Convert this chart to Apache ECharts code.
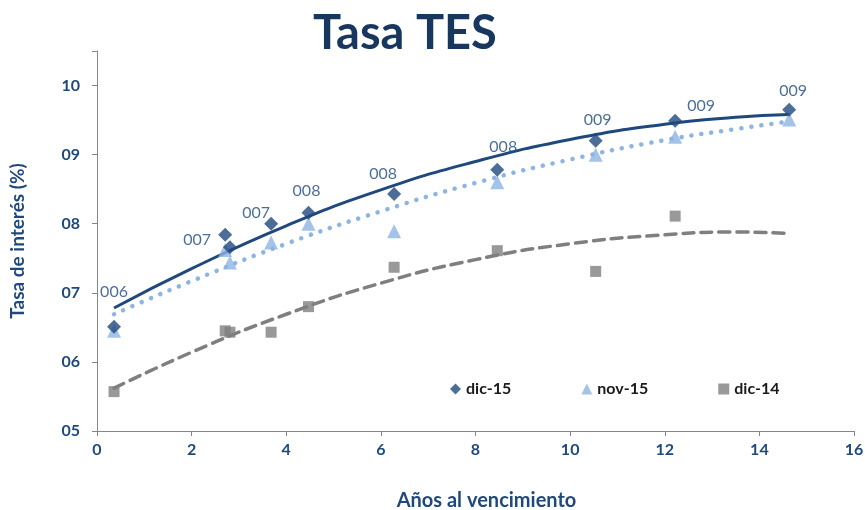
<!DOCTYPE html>
<html>
<head>
<meta charset="utf-8">
<script src="https://cdn.jsdelivr.net/npm/echarts@6/dist/echarts.min.js"></script>
<style>
  html, body { margin: 0; padding: 0; background: #fff; }
  #chart { width: 865px; height: 510px; }
</style>
</head>
<body>
<div id="chart"></div>
<script>
// puntos observados (años, tasa)
const dic15X = [0.36, 2.71, 2.81, 3.68, 4.47, 6.28, 8.46, 10.54, 12.22, 14.63]
const dic15Y = [6.51, 7.84, 7.66, 8.00, 8.16, 8.43, 8.78, 9.20, 9.49, 9.65]
const dic15Labels = ['006', '007', '', '007', '008', '008', '008', '009', '009', '009']

const nov15X = [0.36, 2.71, 2.81, 3.68, 4.47, 6.28, 8.46, 10.54, 12.22, 14.63]
const nov15Y = [6.45, 7.62, 7.44, 7.73, 8.00, 7.89, 8.60, 9.00, 9.26, 9.51]

const dic14X = [0.36, 2.71, 2.81, 3.68, 4.47, 6.28, 8.46, 10.54, 12.22]
const dic14Y = [5.57, 6.45, 6.43, 6.43, 6.80, 7.37, 7.61, 7.31, 8.11]

// líneas de tendencia
const trendX = [0.36, 2, 4, 6, 8, 10, 12, 13.5, 14.63]
const trendDic15 = [6.78, 7.35, 7.97, 8.49, 8.90, 9.22, 9.44, 9.54, 9.58]
const trendNov15 = [6.69, 7.17, 7.71, 8.18, 8.59, 8.93, 9.21, 9.37, 9.48]
const trendDic14 = [5.62, 6.14, 6.69, 7.14, 7.48, 7.71, 7.84, 7.88, 7.86]

const xTicks = [0, 2, 4, 6, 8, 10, 12, 14, 16]
const yTicks = ['05', '06', '07', '08', '09', '10']

const font = 'Lato, "Open Sans", sans-serif'
const navy = '#1F497D'

const zip = (xs, ys) => xs.map((x, i) => [x, ys[i]])

// desplazamiento de cada etiqueta respecto a su punto
const labelOffset = [[0, -35], [-28, 5], [0, 0], [-15, -11], [-2, -22], [-11, -20], [6, -23], [2, -21], [26, -15], [4, -19]]

const chart = echarts.init(document.getElementById('chart'))

chart.setOption({
  animation: false,
  title: {
    text: 'Tasa TES',
    left: 400,
    top: 5,
    textAlign: 'center',
    textStyle: {
      fontFamily: font,
      fontWeight: 'bold',
      fontSize: 47,
      color: '#17375E'
    }
  },
  legend: {
    left: 445,
    top: 376,
    itemGap: 70,
    itemWidth: 11,
    itemHeight: 11,
    textStyle: {
      fontFamily: font,
      fontWeight: 'bold',
      fontSize: 16,
      color: '#1a1a1a'
    },
    data: ['dic-15', 'nov-15', 'dic-14']
  },
  grid: {
    left: 97,
    right: 11,
    top: 51,
    bottom: 79,
    outerBoundsMode: 'none'
  },
  xAxis: {
    type: 'value',
    min: 0,
    max: 16,
    interval: 2,
    name: 'Años al vencimiento',
    nameLocation: 'middle',
    nameGap: 60,
    nameTextStyle: {
      fontFamily: font,
      fontWeight: 'bold',
      fontSize: 20,
      color: navy,
      padding: [0, 0, 0, 22]
    },
    splitLine: { show: false },
    axisLine: { lineStyle: { color: '#868686' } },
    axisTick: { show: true, length: 5, lineStyle: { color: '#868686' } },
    axisLabel: {
      margin: 11,
      fontFamily: font,
      fontWeight: 'bold',
      fontSize: 16,
      color: navy,
      formatter: (v) => xTicks.includes(v) ? String(v) : ''
    }
  },
  yAxis: {
    type: 'value',
    min: 5,
    max: 10.5,
    interval: 1,
    name: 'Tasa de interés (%)',
    nameLocation: 'middle',
    nameRotate: 90,
    nameGap: 70,
    nameTextStyle: {
      fontFamily: font,
      fontWeight: 'bold',
      fontSize: 19,
      color: navy
    },
    splitLine: { show: false },
    axisLine: { show: true, lineStyle: { color: '#868686' } },
    axisTick: { show: true, length: 5, lineStyle: { color: '#868686' } },
    axisLabel: {
      margin: 17,
      fontFamily: font,
      fontWeight: 'bold',
      fontSize: 16,
      color: navy,
      formatter: (v) => Number.isInteger(v) ? yTicks[v - 5] : ''
    }
  },
  series: [
    {
      name: 'trend-dic-14',
      type: 'line',
      smooth: true,
      symbol: 'none',
      data: zip(trendX, trendDic14),
      lineStyle: { color: '#7F7F7F', width: 3.5, type: [11, 7], cap: 'round' },
      z: 1
    },
    {
      name: 'trend-nov-15',
      type: 'line',
      smooth: true,
      symbol: 'none',
      data: zip(trendX, trendNov15),
      lineStyle: { color: '#8DB4E2', width: 4.5, type: [0.1, 10], cap: 'round' },
      z: 1
    },
    {
      name: 'trend-dic-15',
      type: 'line',
      smooth: true,
      symbol: 'none',
      data: zip(trendX, trendDic15),
      lineStyle: { color: navy, width: 3 },
      z: 1
    },
    {
      name: 'dic-14',
      type: 'scatter',
      symbol: 'rect',
      symbolSize: 11,
      itemStyle: { color: '#7F7F7F' },
      data: zip(dic14X, dic14Y),
      z: 2
    },
    {
      name: 'nov-15',
      type: 'scatter',
      symbol: 'triangle',
      symbolSize: 14,
      itemStyle: { color: '#8DB4E2' },
      data: zip(nov15X, nov15Y),
      z: 3
    },
    {
      name: 'dic-15',
      type: 'scatter',
      symbol: 'diamond',
      symbolSize: 14,
      itemStyle: { color: navy },
      data: zip(dic15X, dic15Y).map((p, i) => ({
        value: p,
        label: {
          show: dic15Labels[i] !== '',
          position: 'inside',
          offset: labelOffset[i],
          formatter: dic15Labels[i]
        }
      })),
      label: {
        fontFamily: font,
        fontSize: 16,
        color: navy
      },
      z: 4
    }
  ]
})
</script>
</body>
</html>
